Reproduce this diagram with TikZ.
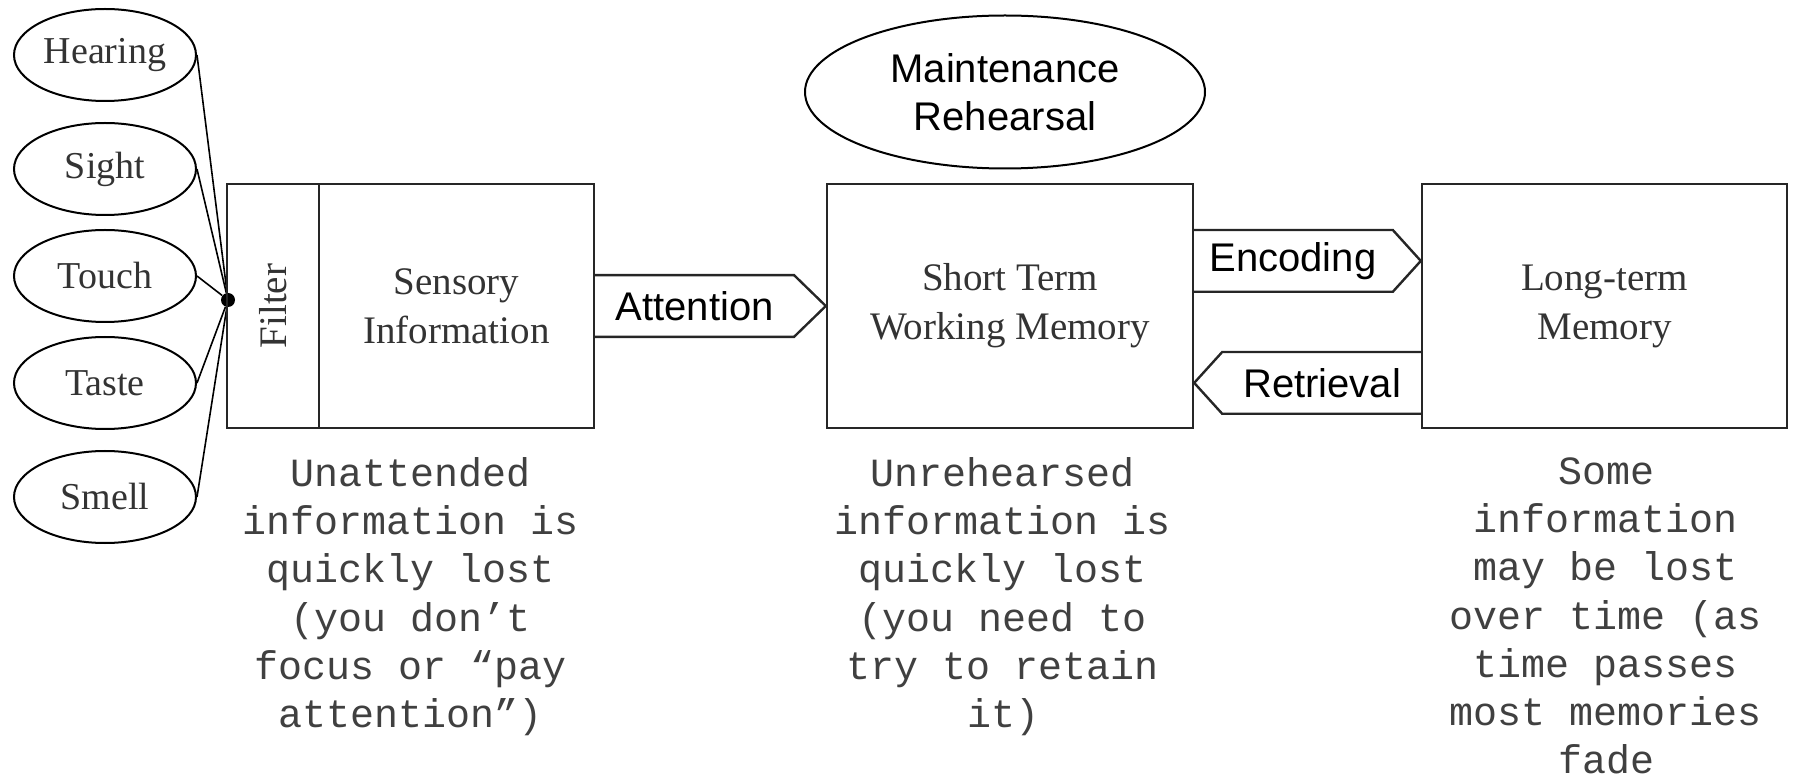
\documentclass[tikz,border=0pt]{standalone}
\usepackage{fontspec}
\setmainfont{Liberation Serif}
\newfontfamily\labelfont{Liberation Sans}
\newfontfamily\notefont{Liberation Mono}
\usetikzlibrary{shapes.geometric}

\begin{document}
\begin{tikzpicture}[x=0.5pt, y=-0.5pt,
    sense/.style={ellipse, draw, line width=1pt, inner sep=0pt,
      minimum width=91pt, minimum height=46pt, text=black!80,
      font=\fontsize{19}{22}\selectfont},
    store/.style={rectangle, draw=black!85, line width=1.2pt, align=center,
      text=black!80, font=\fontsize{19.5}{24.5}\selectfont},
    flow/.style={rectangle, inner sep=0pt, minimum height=30.5pt,
      font=\labelfont\fontsize{20}{24}\selectfont},
    outline/.style={draw=black!85, line width=1.2pt},
    note/.style={align=center, anchor=north, inner sep=0pt, text=black!75,
      font=\notefont\fontsize{20}{24.15}\selectfont}]

  \useasboundingbox (0,0) rectangle (1794,780);

  % Senses
  \node[sense] (hear)  at (105,55)  {Hearing};
  \node[sense] (sight) at (105,169) {Sight};
  \node[sense] (touch) at (105,276) {Touch};
  \node[sense] (taste) at (105,383) {Taste};
  \node[sense] (smell) at (105,497) {Smell};

  \node[circle, fill, inner sep=0pt, minimum size=7pt] (hub) at (228,300) {};

  \foreach \s in {hear,sight,touch,taste,smell}
    \draw[line width=0.8pt] (\s.east) -- (hub);

  % Stores
  \node[store, rotate=90, minimum width=122pt, minimum height=46pt] (filter) at (273,306) {Filter};
  \node[store, minimum width=137.5pt, minimum height=122pt] (sens) at (456.5,306) {Sensory\\Information};
  \node[store, minimum width=183pt, minimum height=122pt] (stm) at (1010,306) {Short Term\\Working Memory};
  \node[store, minimum width=182.5pt, minimum height=122pt] (ltm) at (1604.5,306) {Long-term\\Memory};

  \node[ellipse, draw, line width=1pt, minimum width=200pt, minimum height=76.5pt,
    align=center, font=\labelfont\fontsize{20}{24}\selectfont] (rehearse) at (1005,92) {Maintenance\\Rehearsal};

  % Block arrows
  \node[flow, minimum width=99pt, anchor=west] (att) at (sens.east) {Attention};
  \draw[outline] (att.north west) -- (att.north east) -- (stm.west) -- (att.south east) -- (att.south west);

  \node[flow, minimum width=99.5pt, anchor=north west] (enc) at (1193,230) {Encoding};
  \draw[outline] (enc.north west) -- (enc.north east) -- (ltm.west |- enc.east) -- (enc.south east) -- (enc.south west);

  \node[flow, minimum width=99.5pt, anchor=north east] (ret) at (1422,352) {Retrieval};
  \draw[outline] (ret.north east) -- (ret.north west) -- (stm.east |- ret.west) -- (ret.south west) -- (ret.south east);

  % Notes
  \node[note] (lostsens) at (411,457) {Unattended\\information is\\quickly lost\\(you don’t\\focus or “pay\\attention”)};
  \node[note] (loststm) at (1003,457) {Unrehearsed\\information is\\quickly lost\\(you need to\\try to retain\\it)};
  \node[note] (lostltm) at (1606,457) {Some\\information\\may be lost\\over time (as\\time passes\\most memories\\fade};
\end{tikzpicture}
\end{document}
